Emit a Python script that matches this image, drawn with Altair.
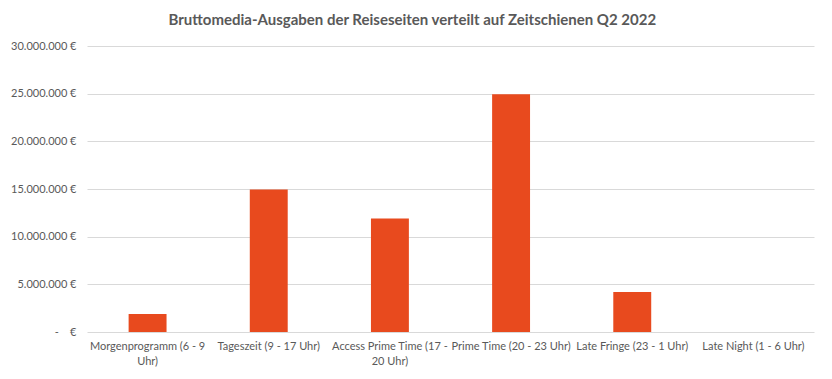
import altair as alt
import pandas as pd

categories = [
    "Morgenprogramm (6 - 9 Uhr)",
    "Tageszeit (9 - 17 Uhr)",
    "Access Prime Time (17 - 20 Uhr)",
    "Prime Time (20 - 23 Uhr)",
    "Late Fringe (23 - 1 Uhr)",
    "Late Night (1 - 6 Uhr)",
]
values = [1900000, 14950000, 11900000, 24950000, 4200000, 0]
y_ticks = [0, 5000000, 10000000, 15000000, 20000000, 25000000, 30000000]

df = pd.DataFrame({"Zeitschiene": categories, "Ausgaben": values})

x_label_expr = (
    "datum.label == 'Morgenprogramm (6 - 9 Uhr)' ? ['Morgenprogramm (6 - 9', 'Uhr)'] : "
    "datum.label == 'Access Prime Time (17 - 20 Uhr)' ? ['Access Prime Time (17 -', '20 Uhr)'] : "
    "datum.label"
)
y_label_expr = (
    "datum.value == 0 ? '-\u00a0\u00a0\u00a0\u00a0€' : "
    "replace(format(datum.value, ',.0f'), regexp(',', 'g'), '.') + ' €'"
)

chart = (
    alt.Chart(df)
    .mark_bar(color="#E84A1E")
    .encode(
        x=alt.X(
            "Zeitschiene:N",
            sort=categories,
            title=None,
            scale=alt.Scale(paddingInner=0.687, paddingOuter=0.3435),
            axis=alt.Axis(
                labelAngle=0,
                labelExpr=x_label_expr,
                labelColor="#595959",
                labelFont="Lato",
                labelFontSize=11,
                labelLineHeight=15,
                labelPadding=8,
                ticks=False,
                domain=False,
                grid=False,
                labelLimit=200,
            ),
        ),
        y=alt.Y(
            "Ausgaben:Q",
            title=None,
            scale=alt.Scale(domain=[0, 30000000]),
            axis=alt.Axis(
                values=y_ticks,
                labelExpr=y_label_expr,
                labelColor="#595959",
                labelFont="Lato",
                labelFontSize=11,
                labelPadding=11,
                ticks=False,
                domain=False,
                gridColor="#D9D9D9",
                gridWidth=1,
                minExtent=75,
                maxExtent=75,
            ),
        ),
    )
    .properties(
        width=727,
        height=286,
        title=alt.TitleParams(
            "Bruttomedia-Ausgaben der Reiseseiten verteilt auf Zeitschienen Q2 2022",
            font="Lato",
            fontSize=15,
            fontWeight="bold",
            color="#595959",
            anchor="middle",
            frame="bounds",
            offset=12,
        ),
        padding={"left": 2, "top": 5, "right": 5, "bottom": 5},
    )
    .configure_view(stroke=None)
)

chart.save("out.html", embed_options={"renderer": "svg", "actions": False})
